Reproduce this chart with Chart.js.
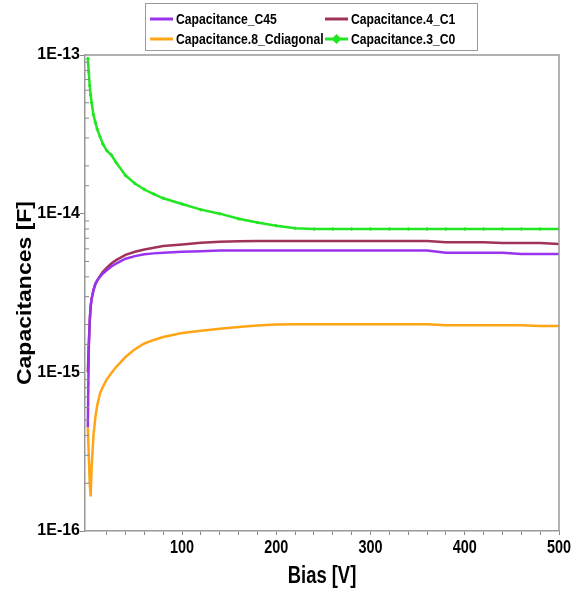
<!DOCTYPE html>
<html>
<head>
<meta charset="utf-8">
<script src="https://cdn.jsdelivr.net/npm/chart.js@4.4.1/dist/chart.umd.min.js"></script>
<style>
  html, body { margin: 0; padding: 0; background: #fff; }
  #wrap { width: 575px; height: 593px; position: relative; }
</style>
</head>
<body>
<div id="wrap"><canvas id="myChart"></canvas></div>
<script>
'use strict';

// bias points [V]
let bias = [0, 1, 2, 3, 4, 6, 8, 10, 13, 16, 20, 25, 30, 40, 50, 60, 70, 80,
  100, 120, 140, 160, 180, 200, 220, 240, 260, 280, 300, 320, 340, 360, 380, 400,
  420, 440, 460, 480, 500];

// capacitances in fF (1E-15 F)
let capC45 = [0.45, 1.4, 2.1, 2.6, 2.9, 3.3, 3.6, 3.8, 4.0, 4.2, 4.4, 4.65, 4.85, 5.2, 5.4, 5.55, 5.62, 5.68,
  5.75, 5.8, 5.85, 5.85, 5.85, 5.85, 5.85, 5.85, 5.85, 5.85, 5.85, 5.85, 5.85, 5.85, 5.68, 5.68,
  5.68, 5.68, 5.57, 5.57, 5.57];
let capC1 = [1.0, 1.5, 2.1, 2.6, 2.9, 3.3, 3.6, 3.8, 4.05, 4.3, 4.55, 4.85, 5.1, 5.5, 5.75, 5.95, 6.1, 6.25,
  6.4, 6.55, 6.65, 6.7, 6.73, 6.73, 6.73, 6.73, 6.73, 6.73, 6.73, 6.73, 6.73, 6.73, 6.6, 6.6,
  6.6, 6.54, 6.54, 6.54, 6.44];
let capCdiag = [0.45, 0.3, 0.2, 0.165, 0.25, 0.4, 0.52, 0.62, 0.74, 0.81, 0.9, 0.99, 1.08, 1.25, 1.4, 1.52, 1.6, 1.67,
  1.77, 1.83, 1.88, 1.93, 1.97, 2.0, 2.01, 2.01, 2.01, 2.01, 2.01, 2.01, 2.01, 2.01, 1.98, 1.98,
  1.98, 1.98, 1.98, 1.96, 1.96];
let capC0 = [95, 78, 64, 56, 50, 42, 37.5, 34, 30.5, 27.5, 25, 23.4, 21, 17.4, 15.5, 14.2, 13.3, 12.5,
  11.5, 10.6, 10.0, 9.3, 8.8, 8.4, 8.1, 8.0, 8.0, 8.0, 8.0, 8.0, 8.0, 8.0, 8.0, 8.0,
  8.0, 8.0, 8.0, 8.0, 8.0];

let seriesNames = ['Capacitance_C45', 'Capacitance.4_C1', 'Capacitance.8_Cdiagonal', 'Capacitance.3_C0'];
let seriesColors = ['#9933ee', '#a0335c', '#ffa516', '#22e622'];

let yMajorTicks = [1e-16, 1e-15, 1e-14, 1e-13];
let yTickLabels = ['1E-16', '1E-15', '1E-14', '1E-13'];
let xTickLabels = ['100', '200', '300', '400', '500'];
let xTitle = 'Bias [V]';
let yTitle = 'Capacitances [F]';

const normalFont = '"Liberation Sans", Arial, sans-serif';
const axisGray = '#999';

function toPoints(vals) {
  return bias.map((b, i) => ({ x: b, y: vals[i] * 1e-15 }));
}

function isDecade(v) {
  let l = Math.log10(v);
  return Math.abs(l - Math.round(l)) < 1e-6;
}

// text squeezed sideways, the original uses a condensed face
function narrowText(ctx, text, x, y, size, squeeze, align, rot) {
  ctx.save();
  ctx.translate(x, y);
  if (rot) ctx.rotate(rot);
  if (rot) ctx.scale(1, squeeze); else ctx.scale(squeeze, 1);
  ctx.font = 'bold ' + size + 'px ' + normalFont;
  ctx.textAlign = align;
  ctx.textBaseline = 'middle';
  ctx.fillStyle = '#000';
  ctx.fillText(text, 0, 0);
  ctx.restore();
}

// frame, inner minor ticks, axis texts and the boxed legend
const framePlugin = {
  id: 'frame',
  afterDraw(chart) {
    const { ctx, chartArea } = chart;
    const yScale = chart.scales.y;
    const xScale = chart.scales.x;
    ctx.save();
    ctx.strokeStyle = axisGray;
    ctx.lineWidth = 1.5;
    ctx.beginPath();
    ctx.moveTo(chartArea.left, chartArea.top);
    ctx.lineTo(chartArea.right, chartArea.top);
    ctx.lineTo(chartArea.right, chartArea.bottom);
    ctx.stroke();

    ctx.lineWidth = 1;
    ctx.strokeStyle = '#888';
    yScale.ticks.forEach(t => {
      if (isDecade(t.value)) return;
      let py = yScale.getPixelForValue(t.value);
      ctx.beginPath();
      ctx.moveTo(chartArea.left, py);
      ctx.lineTo(chartArea.left + 4, py);
      ctx.stroke();
    });

    xTickLabels.forEach(lbl => {
      narrowText(ctx, lbl, xScale.getPixelForValue(Number(lbl)), chartArea.bottom + 17, 19, 0.76, 'center');
    });
    narrowText(ctx, xTitle, (chartArea.left + chartArea.right) / 2, chartArea.bottom + 46, 23, 0.8, 'center');
    narrowText(ctx, yTitle, 26, (chartArea.top + chartArea.bottom) / 2, 23, 0.86, 'center', -Math.PI / 2);

    // legend
    ctx.fillStyle = '#fff';
    ctx.fillRect(145, 3, 332, 47);
    ctx.strokeStyle = '#999';
    ctx.lineWidth = 1;
    ctx.strokeRect(145.5, 3.5, 332, 47);
    let spots = [[150, 19], [325, 19], [150, 39], [325, 39]];
    chart.data.datasets.forEach((ds, i) => {
      let [lx, ly] = spots[i];
      ctx.strokeStyle = ds.borderColor;
      ctx.lineWidth = 3;
      ctx.beginPath();
      ctx.moveTo(lx, ly);
      ctx.lineTo(lx + 23, ly);
      ctx.stroke();
      if (ds.pointStyle === 'rectRot') {
        ctx.fillStyle = ds.borderColor;
        ctx.beginPath();
        ctx.moveTo(lx + 11.5, ly - 5);
        ctx.lineTo(lx + 16.5, ly);
        ctx.lineTo(lx + 11.5, ly + 5);
        ctx.lineTo(lx + 6.5, ly);
        ctx.closePath();
        ctx.fill();
      }
      narrowText(ctx, ds.label, lx + 26, ly + 1, 14, 0.87, 'left');
    });
    ctx.restore();
  }
};

let datasets = [capC45, capC1, capCdiag, capC0].map((vals, i) => ({
  label: seriesNames[i],
  data: toPoints(vals),
  borderColor: seriesColors[i],
  backgroundColor: seriesColors[i],
  borderWidth: 2.5,
  pointRadius: 0,
  tension: 0
}));
datasets[3].pointStyle = 'rectRot';
datasets[3].pointRadius = 2;
datasets[3].pointBorderWidth = 0;

let canvasChart = document.getElementById('myChart').getContext('2d');

const config = {
  type: 'line',
  data: { datasets: datasets },
  options: {
    animation: false,
    responsive: true,
    maintainAspectRatio: false,
    layout: { padding: { top: 55, right: 16, left: 0, bottom: 0 } },
    plugins: { legend: { display: false }, tooltip: { enabled: false } },
    scales: {
      x: {
        type: 'linear',
        min: -3,
        max: 500,
        ticks: { stepSize: 20, autoSkip: false, maxRotation: 0, display: false },
        afterBuildTicks: function (scale) {
          scale.ticks = scale.ticks.filter(t => t.value > 0 && t.value % 20 === 0);
        },
        grid: { drawOnChartArea: false, tickLength: 4, tickColor: '#888' },
        border: { color: axisGray, width: 1.5 },
        afterFit: function (scale) { scale.height = 62; }
      },
      y: {
        type: 'logarithmic',
        min: 1e-16,
        max: 1e-13,
        ticks: {
          autoSkip: false,
          padding: 0,
          color: '#000',
          font: { family: normalFont, size: 16, weight: 'bold' },
          callback: function (value) {
            let idx = yMajorTicks.findIndex(v => Math.abs(value / v - 1) < 1e-6);
            return idx >= 0 ? yTickLabels[idx] : '';
          }
        },
        grid: {
          drawOnChartArea: false,
          tickLength: 5,
          tickColor: ctx => (ctx.tick && isDecade(ctx.tick.value)) ? '#888' : 'rgba(0,0,0,0)'
        },
        border: { color: axisGray, width: 1.5 },
        afterFit: function (scale) { scale.width = 85; }
      }
    }
  },
  plugins: [framePlugin]
};

// eslint-disable-next-line no-unused-vars, no-undef
const myChart = new Chart(canvasChart, config);
</script>
</body>
</html>
